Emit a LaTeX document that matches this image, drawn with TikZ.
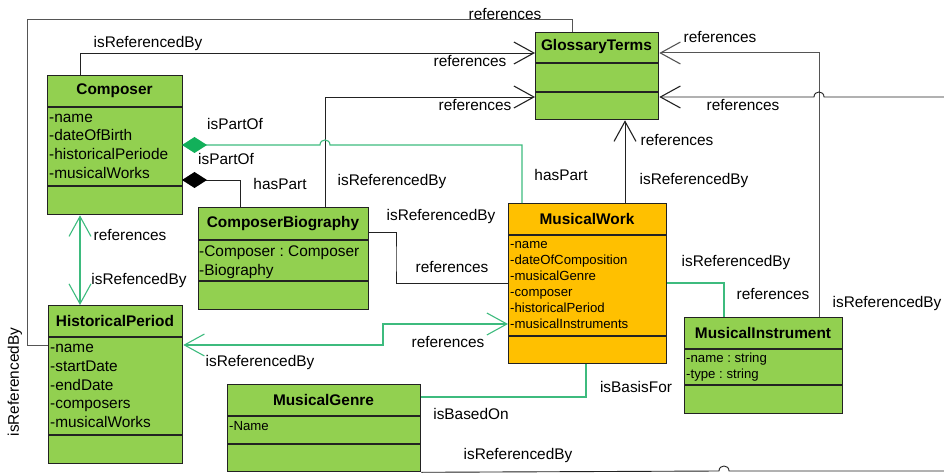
\documentclass[tikz,border=0pt]{standalone}
\usepackage{fontspec}
\setmainfont{Liberation Sans}
\frenchspacing
\usetikzlibrary{arrows.meta}
\definecolor{boxgreen}{HTML}{92D050}
\definecolor{boxgold}{HTML}{FFC000}
\definecolor{lgreen}{HTML}{3DBB7E}
\definecolor{dgreen}{HTML}{12B05A}
\definecolor{ink}{HTML}{222222}
\definecolor{gline}{HTML}{555555}
\tikzset{
  classbox/.style={draw=ink, line width=1.3pt, inner sep=0pt, anchor=north west},
  divline/.style={draw=ink, line width=1.3pt},
  title/.style={font=\fontsize{15.4}{18}\bfseries\selectfont, inner sep=0pt},
  attrs/.style={font=\fontsize{15.4}{18.8}\selectfont, align=left, inner sep=0pt, anchor=base west},
  sattrs/.style={font=\fontsize{13.2}{16}\selectfont, align=left, inner sep=0pt, anchor=base west},
  lbl/.style={font=\fontsize{15.4}{18}\selectfont, inner sep=0pt},
  blk/.style={draw=ink, line width=0.9pt},
  gry/.style={draw=gline, line width=1pt},
  grn/.style={draw=lgreen, line width=1.1pt},
  barb/.style={-{Straight Barb[length=20pt,width=22pt,line width=1.1pt]}},
  dbarb/.style={{Straight Barb[length=20pt,width=22pt,line width=1.1pt]}-{Straight Barb[length=20pt,width=22pt,line width=1.1pt]}},
}
\begin{document}
\begin{tikzpicture}[x=1pt,y=-1pt]
\useasboundingbox (0,0) rectangle (944,473);

% ---------- classes ----------
% Composer
\node[classbox, fill=boxgreen, minimum width=135pt, minimum height=139pt] (comp) at (47,75) {};
\draw[divline] (47,107) -- (182,107);
\draw[divline] (47,186) -- (182,186);
\node[title] (compt) at (114.5,91) {Composer};
\node[attrs] (compa) at (49,178.4) {-name\\-dateOfBirth\\-historicalPeriode\\-musicalWorks};

% GlossaryTerms
\node[classbox, fill=boxgreen, minimum width=123pt, minimum height=87pt] (gloss) at (535,32) {};
\draw[divline] (535,63) -- (658,63);
\draw[divline] (535,92) -- (658,92);
\node[title] (glosst) at (596.5,47) {GlossaryTerms};

% ComposerBiography
\node[classbox, fill=boxgreen, minimum width=170pt, minimum height=102pt] (cb) at (198,207) {};
\draw[divline] (198,240) -- (368,240);
\draw[divline] (198,281) -- (368,281);
\node[title] (cbt) at (283,223.5) {ComposerBiography};
\node[attrs] (cba) at (199,275.3) {-Composer : Composer\\-Biography};

% HistoricalPeriod
\node[classbox, fill=boxgreen, minimum width=134pt, minimum height=158pt] (hp) at (48,305) {};
\draw[divline] (48,337) -- (182,337);
\draw[divline] (48,435) -- (182,435);
\node[title] (hpt) at (115,321) {HistoricalPeriod};
\node[attrs] (hpa) at (50,427.7) {-name\\-startDate\\-endDate\\-composers\\-musicalWorks};

% MusicalGenre
\node[classbox, fill=boxgreen, minimum width=193pt, minimum height=87pt] (mg) at (227,384) {};
\draw[divline] (227,416) -- (420,416);
\draw[divline] (227,444) -- (420,444);
\node[title] (mgt) at (323.5,400) {MusicalGenre};
\node[sattrs] (mga) at (229,430.5) {-Name};

% MusicalWork
\node[classbox, fill=boxgold, minimum width=158pt, minimum height=160pt] (mw) at (508,203) {};
\draw[divline] (508,235) -- (666,235);
\draw[divline] (508,336) -- (666,336);
\node[title] (mwt) at (587,218.5) {MusicalWork};
\node[sattrs] (mwa) at (510,328.5) {-name\\-dateOfComposition\\-musicalGenre\\-composer\\-historicalPeriod\\-musicalInstruments};

% MusicalInstrument
\node[classbox, fill=boxgreen, minimum width=158pt, minimum height=96pt] (mi) at (684,317) {};
\draw[divline] (684,349) -- (842,349);
\draw[divline] (684,385) -- (842,385);
\node[title] (mit) at (763,332.5) {MusicalInstrument};
\node[sattrs] (mia) at (686,378.5) {-name : string\\-type : string};

% ---------- helper coordinates ----------
\coordinate (o1) at (27,20);
\coordinate (k7) at (396,260);
\coordinate (k8) at (383,335);
\coordinate (e12) at (944,97);
\coordinate (e14) at (944,471);

% ---------- connectors ----------
% 1 outer frame HistoricalPeriod -> GlossaryTerms top
\draw[gry] ([yshift=-40pt]hp.north west) -| (o1) -| ([xshift=37pt]gloss.north west);
% 2 Composer -> GlossaryTerms
\draw[blk, barb] ([xshift=33pt]comp.north west) |- ([yshift=-21pt]gloss.north west);
% 3 ComposerBiography -> GlossaryTerms
\draw[blk, barb] ([xshift=127pt]cb.north west) |- ([yshift=-65pt]gloss.north west);
% 4 Composer <>- MusicalWork (green composition, hop)
\draw[grn] ([yshift=-70pt]comp.north east) -- (320,145)
  .. controls (320,138.3) and (330,138.3) .. (330,145)
  -| ([xshift=14pt]mw.north west);
\fill[dgreen] (182,145) -- (194.5,137) -- (207,145) -- (194.5,153) -- cycle;
% 5 Composer <>- ComposerBiography (black composition)
\draw[blk] ([yshift=-105pt]comp.north east) -| ([xshift=42pt]cb.north west);
\fill[black] (182,180) -- (194.5,172) -- (207,180) -- (194.5,188) -- cycle;
% 6 Composer <-> HistoricalPeriod
\draw[grn, dbarb] ([xshift=33pt]comp.south west) -- ([xshift=32pt]hp.north west);
% 7 ComposerBiography - MusicalWork
\draw[blk] ([yshift=-25pt]cb.north east) -| (k7) |- ([yshift=-80pt]mw.north west);
% 8 HistoricalPeriod <-> MusicalWork
\draw[grn, dbarb] ([yshift=-40pt]hp.north east) -| (k8) |- ([yshift=-121pt]mw.north west);
% 9 MusicalWork -> GlossaryTerms
\draw[blk, barb] ([xshift=117pt]mw.north west) -- ([xshift=90pt]gloss.south west);
% 10 MusicalWork - MusicalInstrument
\draw[grn] ([yshift=-80pt]mw.north east) -| ([xshift=40pt]mi.north west);
% 11 MusicalInstrument -> GlossaryTerms
\draw[gry, barb] ([xshift=135pt]mi.north west) |- ([yshift=-21pt]gloss.north east);
% 12 from right edge -> GlossaryTerms (hop)
\draw[blk, barb] (e12) -- (824,97)
  .. controls (824,90.3) and (814,90.3) .. (814,97)
  -- ([yshift=-65pt]gloss.north east);
% 13 MusicalGenre - MusicalWork
\draw[grn] ([yshift=-13pt]mg.north east) -| ([xshift=78pt]mw.south west);
% 14 bottom line from MusicalGenre (hop)
\draw[blk] (mg.south east) -- (719,471)
  .. controls (719,464.3) and (729,464.3) .. (729,471)
  -- (e14);

% ---------- labels ----------
\node[lbl] (l1) at (505,14) {references};
\node[lbl, rotate=90] (l2) at (15,382) {isReferencedBy};
\node[lbl] (l3) at (148,44) {isReferencedBy};
\node[lbl] (l4) at (470,61) {references};
\node[lbl] (l5) at (475,105) {references};
\node[lbl] (l6) at (392,182) {isReferencedBy};
\node[lbl] (l7) at (235,124) {isPartOf};
\node[lbl] (l8) at (561,175) {hasPart};
\node[lbl] (l9) at (226,159) {isPartOf};
\node[lbl] (l10) at (280,184) {hasPart};
\node[lbl] (l11) at (130,235) {references};
\node[lbl] (l12) at (139,281) {isRefencedBy};
\node[lbl] (l13) at (441,217) {isReferencedBy};
\node[lbl] (l14) at (452,267) {references};
\node[lbl] (l15) at (260,363) {isReferencedBy};
\node[lbl] (l16) at (448,342) {references};
\node[lbl] (l17) at (677,140) {references};
\node[lbl] (l18) at (694,181) {isReferencedBy};
\node[lbl] (l19) at (720,37) {references};
\node[lbl] (l20) at (743,105) {references};
\node[lbl] (l21) at (736,263) {isReferencedBy};
\node[lbl] (l22) at (773,294) {references};
\node[lbl] (l23) at (887,304) {isReferencedBy};
\node[lbl] (l24) at (636,387) {isBasisFor};
\node[lbl] (l25) at (471,414) {isBasedOn};
\node[lbl] (l26) at (518,456) {isReferencedBy};
\end{tikzpicture}
\end{document}
